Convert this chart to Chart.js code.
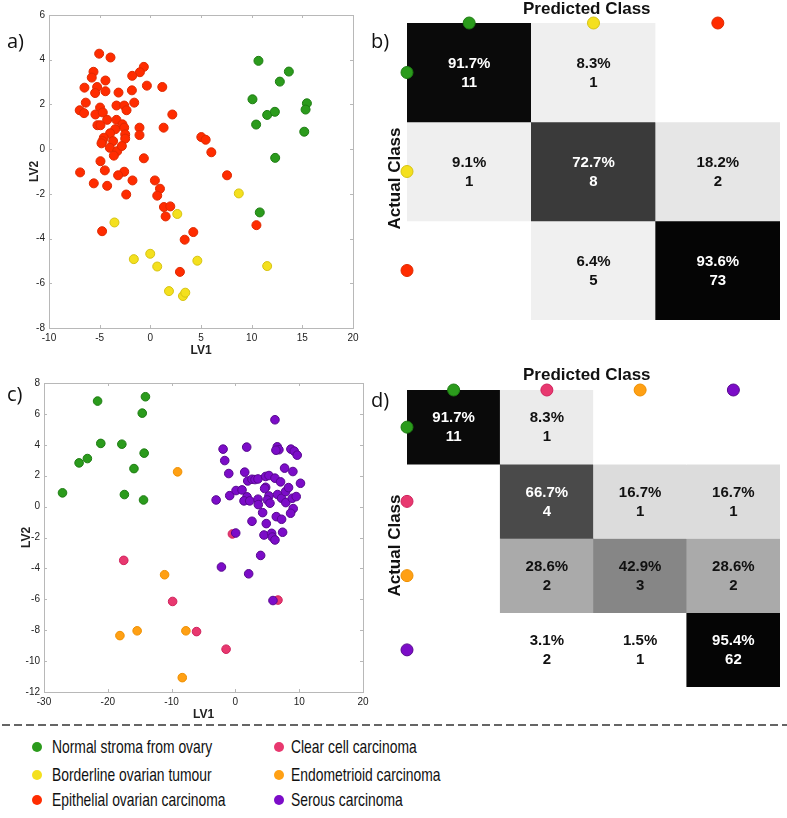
<!DOCTYPE html>
<html>
<head>
<meta charset="utf-8">
<script src="https://cdn.jsdelivr.net/npm/chart.js@4.4.1/dist/chart.umd.min.js"></script>
<style>
  body { margin: 0; background: #fff; }
  #fig { position: relative; width: 787px; height: 818px; background: #fff; overflow: hidden; font-family: "Liberation Sans", Arial, sans-serif; }
  canvas { position: absolute; }
  .lab { position: absolute; font-family: "Open Sans", sans-serif; font-size: 20px; color: #111; line-height: 1; }
  .ttl { position: absolute; font-weight: bold; font-size: 17px; color: #111; white-space: nowrap; line-height: 1; }
  .leg { position: absolute; font-size: 19px; color: #111; white-space: nowrap; transform: scaleX(0.73); transform-origin: left center; line-height: 1; }
  .dot { position: absolute; width: 10px; height: 10px; border-radius: 50%; }
</style>
</head>
<body>
<div id="fig">
  <canvas id="ca" width="380" height="358" style="left:0;top:0"></canvas>
  <canvas id="cb" width="407" height="335" style="left:380px;top:0"></canvas>
  <canvas id="cc" width="380" height="352" style="left:0;top:370px"></canvas>
  <canvas id="cd" width="407" height="335" style="left:380px;top:360px"></canvas>

  <div class="lab" style="left:7px;top:31px">a)</div>
  <div class="lab" style="left:371px;top:31px">b)</div>
  <div class="lab" style="left:7px;top:384px">c)</div>
  <div class="lab" style="left:371px;top:390px">d)</div>

  <div class="ttl" style="left:523px;top:0px">Predicted Class</div>
  <div class="ttl" style="left:343px;top:170px;transform:rotate(-90deg)">Actual Class</div>
  <div class="ttl" style="left:523px;top:366px">Predicted Class</div>
  <div class="ttl" style="left:343px;top:537px;transform:rotate(-90deg)">Actual Class</div>

  <svg style="position:absolute;left:0;top:718px" width="787" height="14">
    <line x1="2" y1="7" x2="787" y2="7" stroke="#333" stroke-width="1.5" stroke-dasharray="8,4"/>
  </svg>
  <div id="legend"></div>
</div>

<script>
// ---- panel a) scores, LV1 / LV2 ----
const aNormal = [[10.67,3.95],[13.67,3.47],[12.78,3.02],[10.08,2.23],[15.45,2.05],[15.32,1.77],[10.44,1.1],[11.53,1.53],[12.29,1.67],[15.19,0.78],[12.32,-0.39],[10.8,-2.83]];
const aBorder = [[-3.54,-3.28],[2.66,-2.9],[8.73,-1.98],[-1.63,-4.92],[-0.01,-4.68],[0.68,-5.25],[4.64,-4.99],[11.53,-5.23],[1.84,-6.35],[3.22,-6.57],[3.45,-6.42]];
const aEpith = [[-5.05,4.27],[-3.93,4.1],[-0.64,3.68],[-1.03,3.44],[-1.79,3.28],[-5.61,3.46],[-5.78,3.2],[-4.43,3.07],[-6.5,2.75],[-5.25,2.78],
  [-5.45,2.51],[-4.43,2.59],[-3.14,2.53],[-1.82,2.63],[-0.34,2.84],[1.18,2.78],[-6.37,2.08],[-1.59,2.08],[-3.34,1.95],[-2.58,1.95],
  [-2.35,1.74],[-4.96,1.86],[-6.97,1.74],[-6.54,1.61],[-5.42,1.55],[-4.69,1.64],[2.17,1.55],[-4.26,1.31],[-3.34,1.31],[-2.75,1.11],
  [-5.22,1.07],[-4.92,1.07],[-2.58,0.96],[-3.47,0.89],[-1.07,0.96],[1.31,0.96],[-3.97,0.71],[-2.48,0.66],[-1.07,0.63],[-4.59,0.51],
  [-4.72,0.36],[-3.67,0.36],[-2.48,0.47],[-4.82,0.26],[-4.0,0.06],[-3.27,-0.09],[-2.81,0.14],[-3.6,-0.29],[-0.64,-0.41],[-4.92,-0.54],
  [5.03,0.54],[5.46,0.42],[6.02,-0.14],[-6.93,-1.04],[-4.49,-0.95],[-2.58,-1.01],[-3.18,-1.17],[-1.76,-1.4],[-5.58,-1.53],[-4.26,-1.64],
  [-2.38,-2.03],[0.45,-1.4],[0.95,-1.77],[0.68,-2.08],[1.34,-2.59],[1.97,-2.56],[1.51,-3.01],[7.57,-1.17],[4.24,-3.71],[3.39,-4.05],
  [-4.76,-3.67],[2.92,-5.49],[10.47,-3.4]];

// ---- panel c) scores ----
const cNormal = [[-27.1,0.89],[-24.5,2.83],[-23.2,3.11],[-21.6,6.83],[-21.1,4.09],[-17.8,4.04],[-17.4,0.78],[-15.9,2.46],[-14.6,6.05],[-14.3,3.46],[-14.1,7.11],[-14.4,0.43]];
const cClear = [[-17.5,-3.48],[-9.84,-6.14],[-6.09,-8.09],[-1.46,-9.23],[-0.47,-1.77],[6.67,-6.05]];
const cEndo = [[-9.06,2.25],[-11.1,-4.41],[-18.1,-8.35],[-15.4,-8.04],[-7.76,-8.04],[-8.33,-11.07]];
const cSerous = [[6.2,5.62],[-1.93,3.72],[1.77,3.85],[-1.67,2.98],[-1.04,2.14],[1.46,2.23],[6.56,3.87],[6.82,3.68],[6.35,3.65],[8.7,3.72],
  [9.22,3.59],[9.69,3.33],[7.71,2.49],[9.01,2.27],[10.2,1.51],[-3.02,0.43],[-0.89,0.71],[0.1,1.04],[1.04,1.08],[1.93,1.66],
  [2.6,1.77],[3.07,1.75],[3.54,1.79],[4.74,1.95],[5.26,2.01],[6.2,1.84],[7.08,1.6],[4.74,1.25],[4.58,1.17],[1.82,0.63],
  [1.35,0.37],[2.24,0.37],[3.54,0.48],[3.59,0.13],[5.26,0.69],[5.0,0.43],[5.42,0.22],[6.61,0.78],[7.24,0.54],[7.86,0.97],
  [8.33,1.23],[7.9,0.26],[8.91,0.54],[9.53,0.65],[9.06,-0.13],[8.65,-0.43],[4.27,-0.39],[2.6,-0.95],[4.84,-1.1],[6.41,-0.65],
  [7.24,-0.82],[0.05,-1.71],[7.4,-1.66],[4.48,-1.84],[5.68,-1.73],[5.78,-1.97],[6.2,-2.16],[3.96,-3.16],[-2.19,-3.91],[2.08,-4.35],
  [5.89,-6.08]];

// ---- confusion matrices (rows = actual, cols = predicted) ----
const bPct = [[91.7, 8.3, 0], [9.1, 72.7, 18.2], [0, 6.4, 93.6]];
const bCnt = [[11, 1, 0], [1, 8, 2], [0, 5, 73]];
const dPct = [[91.7, 8.3, 0, 0], [0, 66.7, 16.7, 16.7], [0, 28.6, 42.9, 28.6], [0, 3.1, 1.5, 95.4]];
const dCnt = [[11, 1, 0, 0], [0, 4, 1, 1], [0, 2, 3, 2], [0, 2, 1, 62]];

// classes
const legendLeft = ['Normal stroma from ovary', 'Borderline ovarian tumour', 'Epithelial ovarian carcinoma'];
const legendRight = ['Clear cell carcinoma', 'Endometrioid carcinoma', 'Serous carcinoma'];

// styles
const COL = {
  normal: ['#2b9b1c', '#1d7c12'],
  border: ['#f4e01e', '#d6c312'],
  epith: ['#ff2c00', '#de2a00'],
  clear: ['#e8386f', '#cf215c'],
  endo: ['#ffa014', '#ee8f00'],
  serous: ['#7c0cc8', '#57088f']
};
const bShade = [['#0a0a0a', '#efefef', '#ffffff'], ['#efefef', '#3a3a3a', '#e6e6e6'], ['#ffffff', '#f0f0f0', '#050505']];
const dShade = [['#0a0a0a', '#ebebeb', '#ffffff', '#ffffff'], ['#ffffff', '#4a4a4a', '#dcdcdc', '#dcdcdc'],
  ['#ffffff', '#aaaaaa', '#868686', '#aaaaaa'], ['#ffffff', '#ffffff', '#ffffff', '#050505']];

Chart.defaults.font.family = '"Liberation Sans", Arial, sans-serif';
Chart.defaults.animation = false;
Chart.defaults.plugins.legend.display = false;
Chart.defaults.plugins.tooltip.enabled = false;

const toPts = arr => arr.map(p => ({ x: p[0], y: p[1] }));

// box around plot area with small inward ticks (matlab look)
const boxPlugin = {
  id: 'box',
  afterDraw(chart) {
    const { ctx, chartArea: a, scales } = chart;
    ctx.save();
    ctx.strokeStyle = '#b8b8b8';
    ctx.lineWidth = 1;
    ctx.strokeRect(Math.round(a.left) + 0.5, Math.round(a.top) + 0.5, Math.round(a.width), Math.round(a.height));
    ctx.beginPath();
    scales.x.ticks.forEach(t => {
      const px = Math.round(scales.x.getPixelForValue(t.value)) + 0.5;
      ctx.moveTo(px, a.bottom); ctx.lineTo(px, a.bottom - 3);
      ctx.moveTo(px, a.top); ctx.lineTo(px, a.top + 3);
    });
    scales.y.ticks.forEach(t => {
      const py = Math.round(scales.y.getPixelForValue(t.value)) + 0.5;
      ctx.moveTo(a.left, py); ctx.lineTo(a.left + 3, py);
      ctx.moveTo(a.right, py); ctx.lineTo(a.right - 3, py);
    });
    ctx.stroke();
    ctx.restore();
  }
};

function scatterSet(data, col, r) {
  return {
    data: toPts(data),
    backgroundColor: col[0],
    borderColor: col[1],
    borderWidth: 1,
    pointRadius: r
  };
}

function axis(min, max, step, title, fit, titlePad) {
  return {
    type: 'linear', min: min, max: max,
    ticks: { stepSize: step, color: '#222', font: { size: 10 }, padding: 4, maxRotation: 0 },
    grid: { drawOnChartArea: false, drawTicks: false },
    border: { display: false },
    title: { display: true, text: title, color: '#222', font: { size: 12, weight: 'bold' }, padding: titlePad },
    afterFit: fit
  };
}

new Chart(document.getElementById('ca'), {
  type: 'scatter',
  data: {
    datasets: [
      scatterSet(aEpith, COL.epith, 4.5),
      scatterSet(aBorder, COL.border, 4.5),
      scatterSet(aNormal, COL.normal, 4.5)
    ]
  },
  options: {
    responsive: false,
    layout: { padding: { left: 0, top: 15, right: 27, bottom: 0 } },
    scales: {
      x: axis(-10, 20, 5, 'LV1', s => { s.height = 30; }, { top: 0, bottom: 0 }),
      y: axis(-8, 6, 2, 'LV2', s => { s.width = 49; }, { top: 27, bottom: 0 })
    }
  },
  plugins: [boxPlugin]
});

new Chart(document.getElementById('cc'), {
  type: 'scatter',
  data: {
    datasets: [
      scatterSet(cNormal, COL.normal, 4.3),
      scatterSet(cSerous, COL.serous, 4.3),
      scatterSet(cEndo, COL.endo, 4.3),
      scatterSet(cClear, COL.clear, 4.3)
    ]
  },
  options: {
    responsive: false,
    layout: { padding: { left: 0, top: 13, right: 17, bottom: 0 } },
    scales: {
      x: axis(-30, 20, 10, 'LV1', s => { s.height = 30; }, { top: 0, bottom: 0 }),
      y: axis(-12, 8, 2, 'LV2', s => { s.width = 44; }, { top: 19, bottom: 0 })
    }
  },
  plugins: [boxPlugin]
});

// confusion matrix as floating bars, one dataset per actual-class row
function matrixChart(id, pct, cnt, shade, cols, pad) {
  const n = pct.length;
  const rows = pct.map((row, r) => ({
    type: 'bar',
    grouped: false,
    order: 1,
    data: row.map((v, c) => ({ x: c + 0.5, y: [r, r + 1] })),
    backgroundColor: shade[r],
    borderWidth: 0,
    barPercentage: 1,
    categoryPercentage: 1
  }));
  const marks = [];
  cols.forEach((col, i) => {
    marks.push({ x: i + 0.5, y: 0, c: col });
    marks.push({ x: 0, y: i + 0.5, c: col });
  });
  const markers = {
    type: 'scatter',
    order: 0,
    data: marks.map(m => ({ x: m.x, y: m.y })),
    backgroundColor: marks.map(m => m.c[0]),
    borderColor: marks.map(m => m.c[1]),
    borderWidth: 1,
    pointRadius: 6,
    clip: false
  };
  const cellText = {
    id: 'cellText',
    afterDatasetsDraw(chart) {
      const { ctx, scales: { x, y } } = chart;
      ctx.save();
      ctx.textAlign = 'center';
      ctx.textBaseline = 'middle';
      ctx.font = 'bold 15px "Liberation Sans", Arial, sans-serif';
      pct.forEach((row, r) => row.forEach((v, c) => {
        if (!cnt[r][c]) return;
        const px = x.getPixelForValue(c + 0.5);
        const py = y.getPixelForValue(r + 0.5);
        ctx.fillStyle = v > 50 ? '#ffffff' : '#111111';
        ctx.fillText(v.toFixed(1) + '%', px, py - 9);
        ctx.fillText(String(cnt[r][c]), px, py + 10);
      }));
      ctx.restore();
    }
  };
  return new Chart(document.getElementById(id), {
    type: 'bar',
    data: { datasets: [...rows, markers] },
    options: {
      responsive: false,
      layout: { padding: pad },
      scales: {
        x: { type: 'linear', min: 0, max: n, offset: false, display: false, ticks: { stepSize: 1 } },
        y: { type: 'linear', min: 0, max: n, offset: false, reverse: true, display: false, ticks: { stepSize: 1 } }
      }
    },
    plugins: [cellText]
  });
}

matrixChart('cb', bPct, bCnt, bShade, [COL.normal, COL.border, COL.epith], { left: 27, top: 23, right: 5, bottom: 15 });
matrixChart('cd', dPct, dCnt, dShade, [COL.normal, COL.clear, COL.endo, COL.serous], { left: 27, top: 30, right: 4, bottom: 8 });

// legend under the dashed line
const legBox = document.getElementById('legend');
const legRowsY = [747, 775, 800];
function addLegend(labels, colors, dotX, textX) {
  labels.forEach((t, i) => {
    const d = document.createElement('div');
    d.className = 'dot';
    d.style.left = (dotX - 5) + 'px';
    d.style.top = (legRowsY[i] - 5) + 'px';
    d.style.background = colors[i][0];
    legBox.appendChild(d);
    const s = document.createElement('div');
    s.className = 'leg';
    s.textContent = t;
    s.style.left = textX + 'px';
    s.style.top = (legRowsY[i] - 10) + 'px';
    legBox.appendChild(s);
  });
}
addLegend(legendLeft, [COL.normal, COL.border, COL.epith], 37, 52);
addLegend(legendRight, [COL.clear, COL.endo, COL.serous], 279, 291);
</script>
</body>
</html>
